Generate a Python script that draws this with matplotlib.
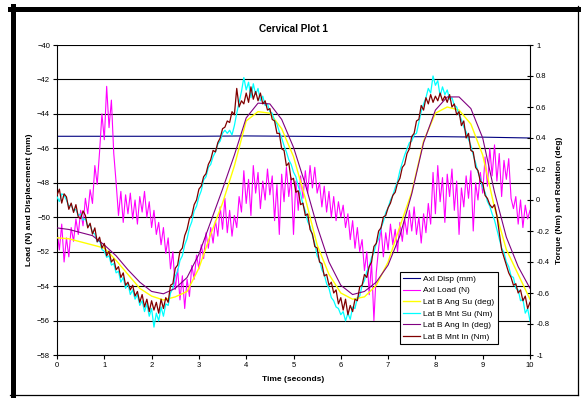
import numpy as np
import matplotlib
matplotlib.use("Agg")
import matplotlib.pyplot as plt
from matplotlib.lines import Line2D

plt.rcParams['font.family'] = ['Liberation Sans', 'DejaVu Sans']

# ---- data ----
t_disp = [0, 1, 2, 3, 4, 5, 6, 7, 8, 9, 10]
axl_disp = [-45.3, -45.3, -45.3, -45.3, -45.28, -45.3, -45.32, -45.33, -45.32, -45.35, -45.4]

# Axl Load (N), every 0.05 s
t_load = np.arange(0, 10.001, 0.05)
axl_load = [
    -50.8, -51.9, -50.4, -52.6, -51.2, -52.3, -50.6, -51.4, -50.1, -51.0,
    -49.6, -50.5, -48.9, -49.8, -48.4, -49.2, -47.0, -48.1, -46.2, -44.0,
    -45.5, -42.4, -44.8, -43.2, -46.3, -48.0, -49.9, -48.5, -50.3, -48.7,
    -49.8, -48.6, -50.1, -49.0, -50.4, -48.8, -49.7, -48.5, -50.0, -49.1,
    -50.6, -49.6, -51.0, -50.3, -51.6, -50.6, -52.1, -51.2, -53.0, -52.0,
    -54.2, -53.0, -54.8, -53.4, -55.3, -53.6, -54.6, -52.8, -53.6, -52.2,
    -53.0, -51.6, -52.4, -50.9, -51.8, -50.6, -51.5, -50.2, -51.1, -49.4,
    -50.7, -48.9, -50.9, -49.6, -51.1, -49.9, -50.6, -48.8, -49.7, -47.3,
    -49.2, -47.8, -49.9, -47.0, -48.6, -47.4, -49.5, -47.9, -49.0, -47.2,
    -48.7, -47.6, -50.2, -48.1, -51.0, -47.5, -49.1, -47.1, -48.8, -47.7,
    -51.0, -47.9, -49.6, -47.6, -48.9, -47.3, -48.6, -47.0, -48.3, -47.1,
    -48.6, -48.0, -49.4, -48.2, -49.7, -48.5, -50.0, -48.8, -50.2, -49.1,
    -50.0, -49.3, -50.6, -49.8, -51.3, -50.2, -51.8, -50.6, -52.0, -51.3,
    -53.1, -52.0, -54.5, -52.6, -56.0, -53.2, -51.8, -50.6, -52.3, -50.9,
    -51.9, -50.4, -51.6, -50.7, -52.0, -50.3, -51.4, -50.1, -51.0, -49.6,
    -50.8, -49.4, -51.0, -50.0, -51.5, -49.8, -50.9, -49.2, -50.4, -47.4,
    -49.8, -47.0, -49.1, -47.7, -50.3, -47.5, -48.8, -47.2, -49.6, -47.9,
    -51.0, -48.3, -49.4, -47.6, -48.9, -47.3, -50.8, -48.0, -49.0, -47.4,
    -48.6, -46.5, -48.2, -46.0, -47.6, -45.8, -47.9, -46.3, -48.8, -46.7,
    -47.8, -46.6, -48.9, -49.5, -48.8, -50.4, -49.0, -50.6, -49.3, -50.1,
    -49.6,
]

# rotations, every 0.25 s
t_ang = np.arange(0, 10.001, 0.25)
ang_su = [
    -0.244, -0.25, -0.27, -0.29, -0.31, -0.39, -0.48, -0.57, -0.62, -0.645,
    -0.625, -0.59, -0.44, -0.22, -0.02, 0.22, 0.51, 0.57, 0.56, 0.46,
    0.28, 0.01, -0.29, -0.48, -0.60, -0.64, -0.625, -0.55, -0.40, -0.17,
    0.05, 0.38, 0.56, 0.60, 0.58, 0.49, 0.29, -0.05, -0.32, -0.48,
    -0.64,
]
ang_in = [
    -0.18, -0.19, -0.21, -0.23, -0.29, -0.36, -0.45, -0.53, -0.59, -0.605,
    -0.57, -0.50, -0.35, -0.14, 0.07, 0.29, 0.53, 0.625, 0.62, 0.52,
    0.34, 0.10, -0.17, -0.40, -0.55, -0.61, -0.59, -0.53, -0.42, -0.23,
    0.04, 0.37, 0.58, 0.665, 0.665, 0.59, 0.40, 0.05, -0.24, -0.43,
    -0.57,
]

# torques, every 0.05 s
t_mnt = np.arange(0, 10.001, 0.05)
mnt_su = [
    0.02, -0.01, 0.04, 0.03, 0.00, -0.04, -0.03, -0.07, -0.06, -0.10,
    -0.09, -0.13, -0.12, -0.17, -0.16, -0.21, -0.22, -0.27, -0.26, -0.32,
    -0.33, -0.37, -0.36, -0.42, -0.41, -0.47, -0.46, -0.53, -0.50, -0.57,
    -0.54, -0.61, -0.58, -0.64, -0.61, -0.68, -0.65, -0.72, -0.67, -0.75,
    -0.70, -0.82, -0.73, -0.78, -0.69, -0.75, -0.67, -0.68, -0.60, -0.57,
    -0.49, -0.46, -0.39, -0.36, -0.29, -0.25, -0.18, -0.14, -0.07, -0.04,
    0.02, 0.06, 0.13, 0.15, 0.21, 0.23, 0.28, 0.31, 0.36, 0.38,
    0.43, 0.45, 0.43, 0.45, 0.42, 0.48, 0.56, 0.63, 0.70, 0.79,
    0.71, 0.76, 0.66, 0.75, 0.68, 0.72, 0.64, 0.67, 0.61, 0.62,
    0.57, 0.56, 0.51, 0.49, 0.44, 0.40, 0.35, 0.31, 0.26, 0.23,
    0.18, 0.15, 0.09, 0.04, -0.03, -0.07, -0.14, -0.17, -0.23, -0.28,
    -0.36, -0.39, -0.45, -0.48, -0.54, -0.57, -0.63, -0.65, -0.69, -0.70,
    -0.74, -0.72, -0.78, -0.73, -0.77, -0.69, -0.70, -0.63, -0.62, -0.55,
    -0.52, -0.46, -0.43, -0.37, -0.34, -0.28, -0.25, -0.18, -0.14, -0.08,
    -0.05, 0.00, 0.03, 0.08, 0.12, 0.19, 0.24, 0.29, 0.33, 0.37,
    0.38, 0.42, 0.43, 0.50, 0.57, 0.62, 0.66, 0.72, 0.69, 0.80,
    0.74, 0.77, 0.67, 0.73, 0.68, 0.71, 0.65, 0.66, 0.61, 0.60,
    0.55, 0.52, 0.47, 0.44, 0.39, 0.35, 0.29, 0.24, 0.18, 0.14,
    0.08, 0.05, -0.01, -0.04, -0.09, -0.13, -0.19, -0.25, -0.31, -0.34,
    -0.40, -0.43, -0.49, -0.50, -0.57, -0.58, -0.65, -0.64, -0.73, -0.70,
    -0.78,
]
mnt_in = [
    0.03, 0.07, -0.02, 0.04, 0.02, -0.06, -0.02, -0.08, -0.03, -0.11,
    -0.12, -0.07, -0.10, -0.18, -0.15, -0.22, -0.18, -0.27, -0.24, -0.31,
    -0.28, -0.36, -0.33, -0.40, -0.38, -0.45, -0.43, -0.50, -0.47, -0.55,
    -0.53, -0.58, -0.55, -0.62, -0.59, -0.66, -0.61, -0.69, -0.64, -0.72,
    -0.65, -0.71, -0.66, -0.73, -0.64, -0.70, -0.63, -0.66, -0.55, -0.54,
    -0.44, -0.42, -0.33, -0.31, -0.23, -0.19, -0.12, -0.10, -0.03, 0.00,
    0.07, 0.09, 0.15, 0.17, 0.23, 0.26, 0.32, 0.31, 0.37, 0.40,
    0.46, 0.47, 0.51, 0.50, 0.57, 0.55, 0.72, 0.60, 0.64, 0.62,
    0.69, 0.63, 0.73, 0.65, 0.70, 0.64, 0.69, 0.62, 0.64, 0.58,
    0.59, 0.52, 0.51, 0.43, 0.43, 0.33, 0.32, 0.22, 0.24, 0.13,
    0.14, 0.05, 0.06, -0.03, -0.02, -0.10, -0.09, -0.19, -0.22, -0.30,
    -0.31, -0.40, -0.41, -0.49, -0.48, -0.55, -0.53, -0.60, -0.58, -0.67,
    -0.63, -0.71, -0.64, -0.74, -0.68, -0.72, -0.64, -0.65, -0.56, -0.55,
    -0.48, -0.50, -0.43, -0.40, -0.30, -0.28, -0.20, -0.18, -0.11, -0.10,
    -0.05, -0.02, 0.03, 0.05, 0.11, 0.14, 0.21, 0.23, 0.30, 0.33,
    0.41, 0.43, 0.51, 0.52, 0.61, 0.58, 0.66, 0.62, 0.68, 0.63,
    0.67, 0.64, 0.69, 0.64, 0.67, 0.63, 0.68, 0.60, 0.62, 0.55,
    0.57, 0.48, 0.51, 0.40, 0.43, 0.32, 0.31, 0.21, 0.19, 0.12,
    0.11, 0.03, 0.01, -0.03, -0.05, -0.03, -0.10, -0.21, -0.32, -0.37,
    -0.42, -0.47, -0.50, -0.55, -0.54, -0.60, -0.58, -0.65, -0.62, -0.70,
    -0.66,
]

W, H = 582, 398
fig = plt.figure(figsize=(W / 100, H / 100), dpi=100)
ax = fig.add_axes([57 / W, 1 - 355 / H, 473 / W, 310 / H])
ax2 = ax.twinx()

ln1, = ax.plot(t_disp, axl_disp, color='#000080', lw=0.8, label='Axl Disp (mm)')
ln2, = ax.plot(t_load, axl_load, color='#FF00FF', lw=0.8, label='Axl Load (N)')
ln3, = ax2.plot(t_ang, ang_su, color='#FFFF00', lw=1.0, label='Lat B Ang Su (deg)')
ln4, = ax2.plot(t_mnt, mnt_su, color='#00FFFF', lw=0.9, label='Lat B Mnt Su (Nm)')
ln5, = ax2.plot(t_ang, ang_in, color='#800080', lw=0.8, label='Lat B Ang In (deg)')
ln6, = ax2.plot(t_mnt, mnt_in, color='#800000', lw=0.9, label='Lat B Mnt In (Nm)')

ax.set_xlim(0, 10)
ax.set_ylim(-58, -40)
ax2.set_ylim(-1, 1)
ax.set_xticks(range(0, 11))
ax.set_yticks(range(-58, -39, 2))
ax2.set_yticks(np.round(np.arange(-1, 1.01, 0.2), 1))
ax2.set_yticklabels(['-1', '-0.8', '-0.6', '-0.4', '-0.2', '0', '0.2', '0.4', '0.6', '0.8', '1'])

ax.yaxis.grid(True, color='black', lw=0.8)
ax.set_axisbelow(True)
for s in ['top', 'right']:
    ax.spines[s].set_visible(False)
for s in ['top', 'left', 'bottom']:
    ax2.spines[s].set_visible(False)
for s in ['left', 'bottom']:
    ax.spines[s].set_linewidth(0.8)
ax2.spines['right'].set_linewidth(0.8)

ax.tick_params(axis='both', direction='out', length=3, width=0.8, labelsize=5.5, pad=2)
ax2.tick_params(axis='y', direction='inout', length=5, width=0.8, labelsize=5.5, pad=2)

ax.set_title('Cervical Plot 1', fontsize=7.2, fontweight='bold', pad=9)
ax.set_xlabel('Time (seconds)', fontsize=6, fontweight='bold', labelpad=5)
ax.set_ylabel('Load (N) and Displacement (mm)', fontsize=6, fontweight='bold', labelpad=3)
ax2.set_ylabel('Torque (Nm) and Rotation (deg)', fontsize=6, fontweight='bold', labelpad=5)

leg = ax2.legend(handles=[ln1, ln2, ln3, ln4, ln5, ln6], loc='lower right',
                 bbox_to_anchor=(0.932, 0.035), fontsize=6, frameon=True,
                 fancybox=False, edgecolor='black', framealpha=1,
                 handlelength=2.0, handletextpad=0.4, labelspacing=0.45,
                 borderpad=0.4, borderaxespad=0)
leg.get_frame().set_linewidth(0.8)

# chart frame: thick left/top, thin right/bottom
fx = lambda px: px / W
fy = lambda py: 1 - py / H
fig.add_artist(Line2D([fx(578), fx(578)], [fy(6), fy(395)], color='black', lw=0.9))
fig.add_artist(Line2D([fx(10), fx(578)], [fy(395), fy(395)], color='black', lw=0.9))
fig.add_artist(Line2D([fx(12.5), fx(12.5)], [fy(6), fy(395)], color='black', lw=3.6))
fig.add_artist(Line2D([fx(10), fx(578)], [fy(8.5), fy(8.5)], color='black', lw=3.6))

fig.savefig('out.png', dpi=100)
